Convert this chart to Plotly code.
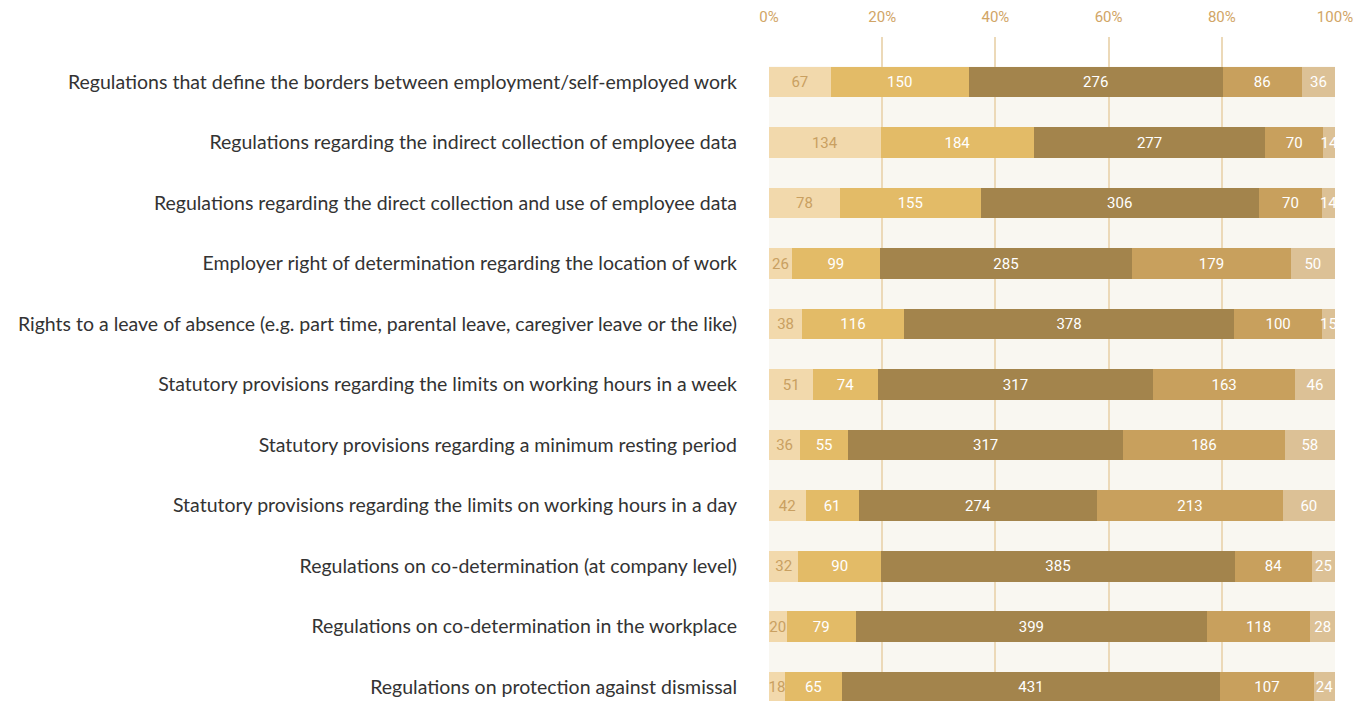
import plotly.graph_objects as go

categories = [
    "Regulations that define the borders between employment/self-employed work",
    "Regulations regarding the indirect collection of employee data",
    "Regulations regarding the direct collection and use of employee data",
    "Employer right of determination regarding the location of work",
    "Rights to a leave of absence (e.g. part time, parental leave, caregiver leave or the like)",
    "Statutory provisions regarding the limits on working hours in a week",
    "Statutory provisions regarding a minimum resting period",
    "Statutory provisions regarding the limits on working hours in a day",
    "Regulations on co-determination (at company level)",
    "Regulations on co-determination in the workplace",
    "Regulations on protection against dismissal",
]

s1 = [67, 134, 78, 26, 38, 51, 36, 42, 32, 20, 18]
s2 = [150, 184, 155, 99, 116, 74, 55, 61, 90, 79, 65]
s3 = [276, 277, 306, 285, 378, 317, 317, 274, 385, 399, 431]
s4 = [86, 70, 70, 179, 100, 163, 186, 213, 84, 118, 107]
s5 = [36, 14, 14, 50, 15, 46, 58, 60, 25, 28, 24]

pct_ticks = [0, 20, 40, 60, 80, 100]
pct_labels = ["0%", "20%", "40%", "60%", "80%", "100%"]

series = [s1, s2, s3, s4, s5]
colors = ["#f2d9ac", "#e3bb67", "#a3844c", "#c8a05d", "#dcc196"]
text_colors = ["#c9a061", "#ffffff", "#ffffff", "#ffffff", "#ffffff"]

ypos = list(range(len(categories)))

fig = go.Figure()
for vals, col, tcol in zip(series, colors, text_colors):
    fig.add_trace(go.Bar(
        x=vals, y=ypos, orientation="h",
        marker=dict(color=col, line=dict(width=0)),
        text=vals, textposition="inside", insidetextanchor="middle",
        textfont=dict(color=tcol, size=15, family="Roboto"),
        showlegend=False, hoverinfo="x",
    ))

# cream background under the bars
fig.add_shape(type="rect", xref="paper", yref="y", x0=0, x1=1, y0=-0.255, y1=10.5,
              fillcolor="#f9f7f1", line=dict(width=0), layer="below")

# page body has an 8px margin, margins compensate for it
fig.update_layout(
    barmode="stack", barnorm="percent", bargap=0.49,
    width=1366, height=701,
    margin=dict(l=761, r=39, t=29, b=8),
    paper_bgcolor="#ffffff", plot_bgcolor="#ffffff",
    uniformtext=dict(minsize=15, mode="show"),
    font=dict(family="Lato"),
)
fig.update_xaxes(
    side="top", range=[0, 100], tickvals=pct_ticks, ticktext=pct_labels,
    showgrid=True, gridcolor="#ecd9b8", gridwidth=1.5, zeroline=False,
    tickfont=dict(color="#d1a566", size=15, family="Roboto"), ticks="",
    ticklabelstandoff=11, automargin=False, showline=False, fixedrange=True,
)
fig.update_yaxes(
    range=[10.23, -0.744], tickvals=ypos, ticktext=categories,
    showgrid=False, zeroline=False, ticks="", ticklabelstandoff=31,
    automargin=False, tickfont=dict(color="#333333", size=19.5, family="Lato"),
)

fig.write_html("out.html")
